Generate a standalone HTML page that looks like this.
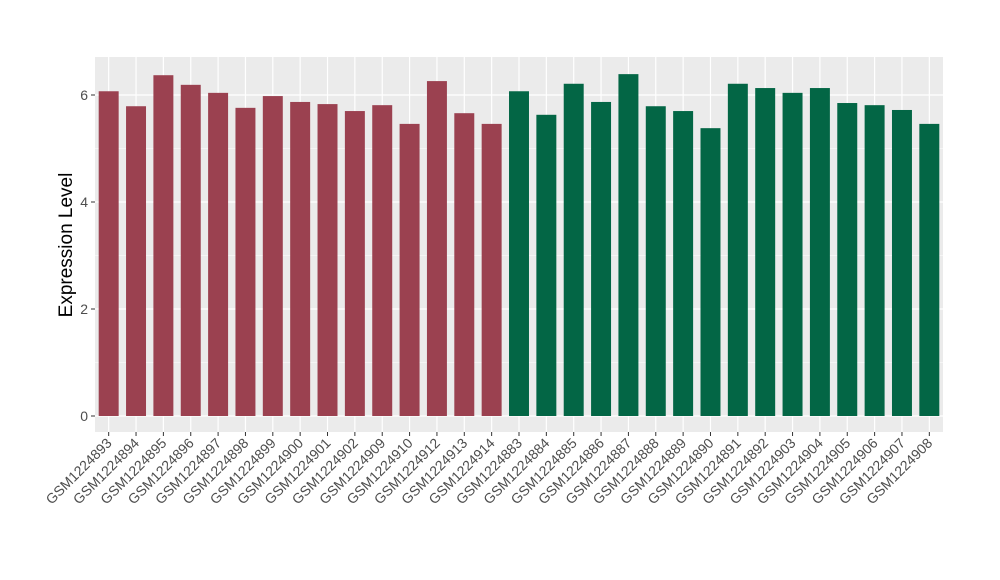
<!DOCTYPE html>
<html><head><meta charset="utf-8"><style>
body{margin:0;background:#fff;}
svg{display:block;font-family:"Liberation Sans",Arial,sans-serif;}
</style></head><body>
<svg id="chart" width="1000" height="580"></svg>
<script>
const categories=["GSM1224893","GSM1224894","GSM1224895","GSM1224896","GSM1224897","GSM1224898","GSM1224899","GSM1224900","GSM1224901","GSM1224902","GSM1224909","GSM1224910","GSM1224912","GSM1224913","GSM1224914","GSM1224883","GSM1224884","GSM1224885","GSM1224886","GSM1224887","GSM1224888","GSM1224889","GSM1224890","GSM1224891","GSM1224892","GSM1224903","GSM1224904","GSM1224905","GSM1224906","GSM1224907","GSM1224908"];
const values=[6.07,5.79,6.37,6.19,6.04,5.76,5.98,5.87,5.83,5.70,5.81,5.46,6.26,5.66,5.46,6.07,5.63,6.21,5.87,6.39,5.79,5.70,5.38,6.21,6.13,6.04,6.13,5.85,5.81,5.72,5.46];
const groups=["a","a","a","a","a","a","a","a","a","a","a","a","a","a","a","b","b","b","b","b","b","b","b","b","b","b","b","b","b","b","b"];
const yTicks=[0,2,4,6];
const yMinor=[1,3,5];
const colors={a:"#9b4150",b:"#036645"};
const NS="http://www.w3.org/2000/svg";
const svg=document.getElementById("chart");
const L=95,R=943,T=57,B=432;
const y0=416,pxPerUnit=53.5;
const y=v=>y0-v*pxPerUnit;
const band=(R-L)/categories.length;
const x=i=>L+band*(i+0.5);
const bw=band*0.73;
function mk(t,a){const e=document.createElementNS(NS,t);for(const k in a)e.setAttribute(k,a[k]);svg.appendChild(e);return e;}
let e=mk("rect",{x:L,y:T,width:R-L,height:B-T,fill:"#ebebeb"});


yMinor.forEach(v=>{const g=mk("line",{x1:L,x2:R,y1:y(v),y2:y(v),stroke:"#fff","stroke-width":0.6});

});
yTicks.forEach(v=>{const g=mk("line",{x1:L,x2:R,y1:y(v),y2:y(v),stroke:"#fff","stroke-width":1.2});


const t=mk("line",{x1:L-4,x2:L,y1:y(v),y2:y(v),stroke:"#333","stroke-width":1});


const l=mk("text",{x:L-7,y:y(v)+5,"text-anchor":"end","font-size":14,fill:"#4d4d4d"});l.textContent=v;

});
categories.forEach((c,i)=>{
const g=mk("line",{x1:x(i),x2:x(i),y1:T,y2:B,stroke:"#fff","stroke-width":1.2});


const b=mk("rect",{x:x(i)-bw/2,y:y(values[i]),width:bw,height:y(0)-y(values[i]),fill:colors[groups[i]]});


const t=mk("line",{x1:x(i),x2:x(i),y1:B,y2:B+4,stroke:"#333","stroke-width":1});


const l=mk("text",{x:x(i)+4,y:B+12,"text-anchor":"end","font-size":14,fill:"#4d4d4d",transform:`rotate(-45 ${x(i)+4} ${B+12})`});
l.textContent=c;


});
const yt=mk("text",{x:72,y:245,"text-anchor":"middle","font-size":19,fill:"#000",transform:"rotate(-90 72 245)"});
yt.textContent="Expression Level";


</script>
</body></html>
